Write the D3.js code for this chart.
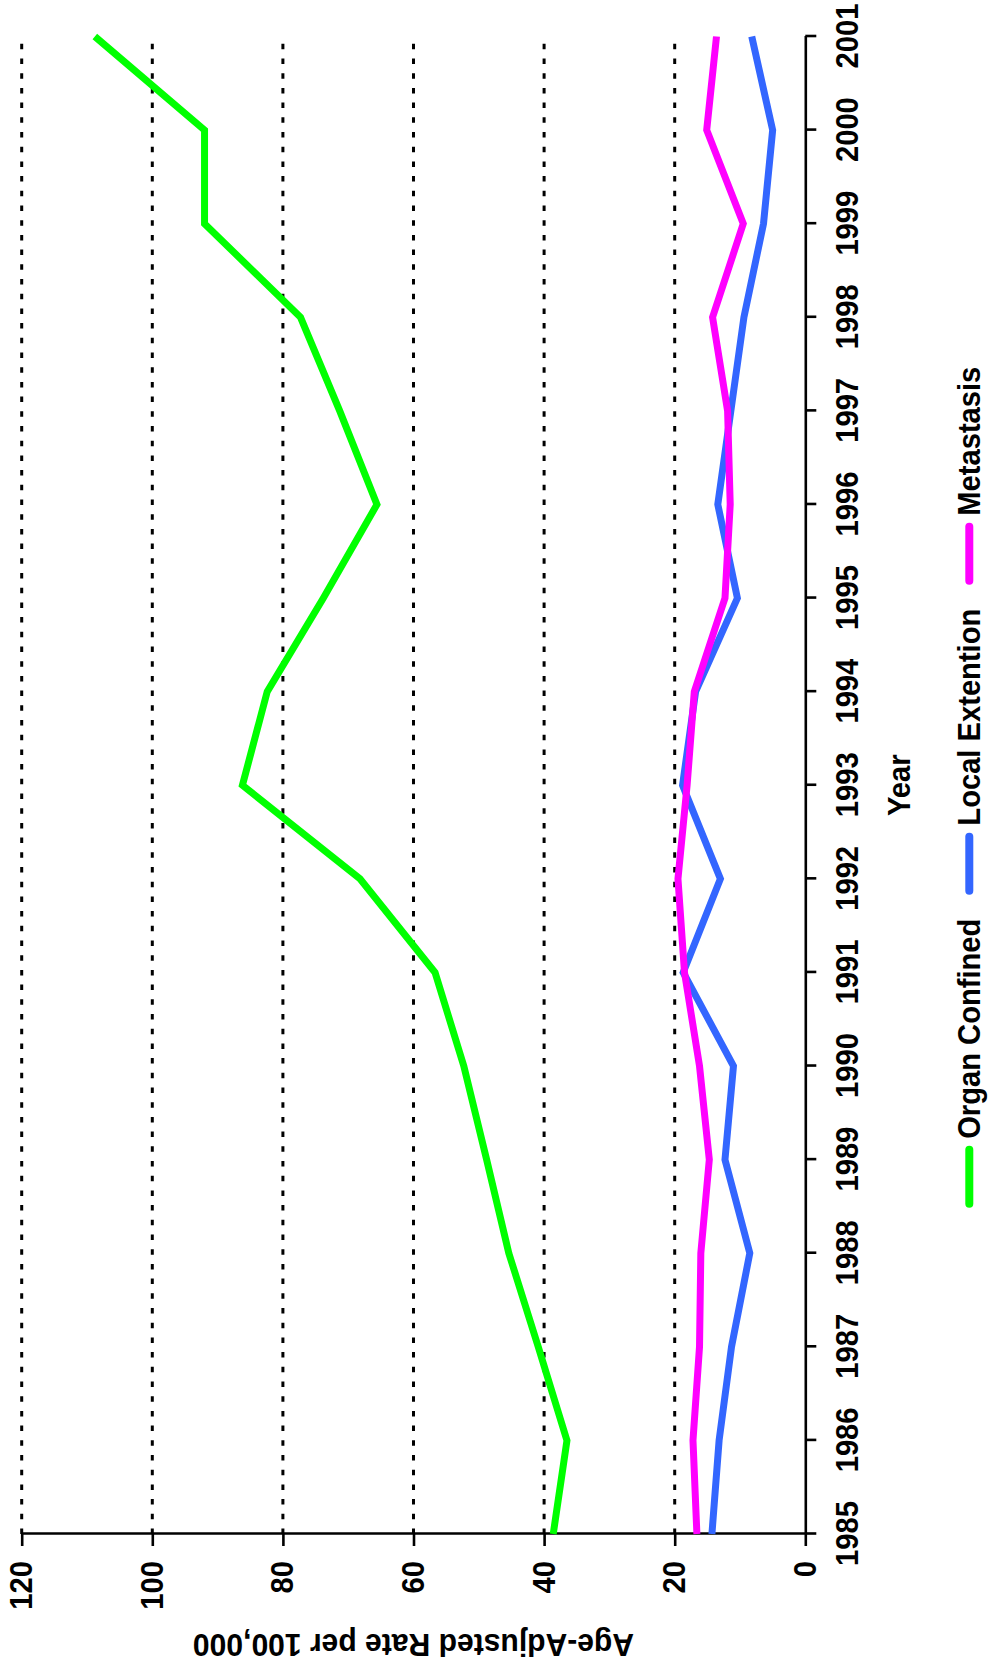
<!DOCTYPE html>
<html>
<head>
<meta charset="utf-8">
<script src="https://cdn.jsdelivr.net/npm/d3@7"></script>
<style>
  html, body { margin: 0; padding: 0; background: #fff; }
  svg { display: block; }
</style>
</head>
<body>
<script>
// ---- data ----
const years = [1985,1986,1987,1988,1989,1990,1991,1992,1993,1994,1995,1996,1997,1998,1999,2000,2001];
const organConfined = [38.6,36.5,40.9,45.4,48.8,52.3,56.7,68.2,86.2,82.4,73.8,65.6,71.3,77.3,92.0,92.0,108.8];
const localExtention = [14.3,13.2,11.3,8.5,12.3,11.0,18.7,13.0,18.8,16.8,10.4,13.4,11.4,9.4,6.4,5.0,8.2];
const metastasis = [16.6,17.2,16.2,16.0,14.7,16.2,18.5,19.5,18.1,17.0,12.3,11.5,11.9,14.2,9.5,15.1,13.6];
const seriesNames = ["Organ Confined","Local Extention","Metastasis"];
const seriesColors = ["#00ff00","#3366ff","#ff00ff"];
const valueTicks = [0,20,40,60,80,100,120];
const gridTicks = [20,40,60,80,100,120];
const xTitle = "Year";
const yTitle = "Age-Adjusted Rate per 100,000";

// ---- layout ----
const W = 989, H = 1663;
const originX = 21.7, originY = 1534;   // screen position of (1985, 120)
const plotLen = 1497.5;   // along year axis
const plotDepth = 783.6;  // along value axis
const FONT = "'Liberation Sans', Arial, Helvetica, sans-serif";
const FS = 31;            // font size
const NARROW = 0.94;      // horizontal condensing of text

const svg = d3.select("body").append("svg")
  .attr("width", W).attr("height", H)
  .style("background", "#fff");

// whole chart drawn in its natural orientation, then rotated -90deg
const g = svg.append("g")
  .attr("transform", `translate(${originX},${originY}) rotate(-90)`)
  .style("font-family", FONT)
  .style("font-weight", "bold");

function condense(sel, f) {
  sel.each(function () {
    const len = this.getComputedTextLength();
    d3.select(this).attr("textLength", len * f).attr("lengthAdjust", "spacingAndGlyphs");
  });
}

const x = d3.scaleLinear().domain([1985, 2001]).range([0, plotLen]);
const y = d3.scaleLinear().domain([0, 120]).range([plotDepth, 0]);

// grid lines
g.append("g").selectAll("line").data(gridTicks).join("line")
  .attr("x1", x(1985)).attr("x2", x(2001))
  .attr("y1", d => y(d)).attr("y2", d => y(d))
  .attr("stroke", "#000").attr("stroke-width", 3)
  .attr("stroke-dasharray", "5.5 9.2");

// axes
const yAxis = g.append("g")
  .call(d3.axisLeft(y).tickValues(valueTicks).tickSize(12).tickPadding(15).tickSizeOuter(0));
const xAxis = g.append("g")
  .attr("transform", `translate(0,${plotDepth})`)
  .call(d3.axisBottom(x).tickValues(years).tickFormat(d3.format("d")).tickSize(11).tickPadding(20).tickSizeOuter(0));
[yAxis, xAxis].forEach(a => {
  a.selectAll("path, line").attr("stroke", "#000").attr("stroke-width", 2.6);
  a.selectAll("text").attr("fill", "#000")
    .style("font-family", FONT).style("font-size", FS + "px").style("font-weight", "bold");
  condense(a.selectAll("text"), NARROW);
});

// series lines
const series = [organConfined, localExtention, metastasis];
const line = d3.line().x((d, i) => x(years[i])).y(d => y(d));
series.forEach((s, k) => {
  g.append("path").datum(s)
    .attr("d", line)
    .attr("fill", "none")
    .attr("stroke", seriesColors[k])
    .attr("stroke-width", 7)
    .attr("stroke-linejoin", "miter");
});

// axis titles
const yt = g.append("text")
  .attr("transform", `translate(-100,${plotDepth / 2}) rotate(-90)`)
  .attr("text-anchor", "middle")
  .style("font-size", FS + "px")
  .text(yTitle);
condense(yt, 0.97);

const xt = g.append("text")
  .attr("x", plotLen / 2).attr("y", plotDepth + 105)
  .attr("text-anchor", "middle")
  .style("font-size", FS + "px")
  .text(xTitle);
condense(xt, NARROW);

// legend
const symLen = 54, symGap = 11, itemGap = 28;
const leg = g.append("g").attr("transform", `translate(0,${plotDepth + 175})`);
const items = leg.selectAll("g").data(seriesNames).join("g");
items.append("line")
  .attr("x1", 0).attr("x2", symLen).attr("y1", -11).attr("y2", -11)
  .attr("stroke", (d, i) => seriesColors[i])
  .attr("stroke-width", 8).attr("stroke-linecap", "round");
items.append("text")
  .attr("x", symLen + symGap).attr("y", 0)
  .style("font-size", FS + "px")
  .text(d => d);
condense(items.selectAll("text"), NARROW);
const widths = [];
items.each(function () { widths.push(symLen + symGap + (+this.querySelector("text").getAttribute("textLength"))); });
const total = d3.sum(widths) + itemGap * (widths.length - 1);
let pos = plotLen / 2 - total / 2;
items.attr("transform", (d, i) => { const p = pos; pos += widths[i] + itemGap; return `translate(${p},0)`; });
</script>
</body>
</html>
